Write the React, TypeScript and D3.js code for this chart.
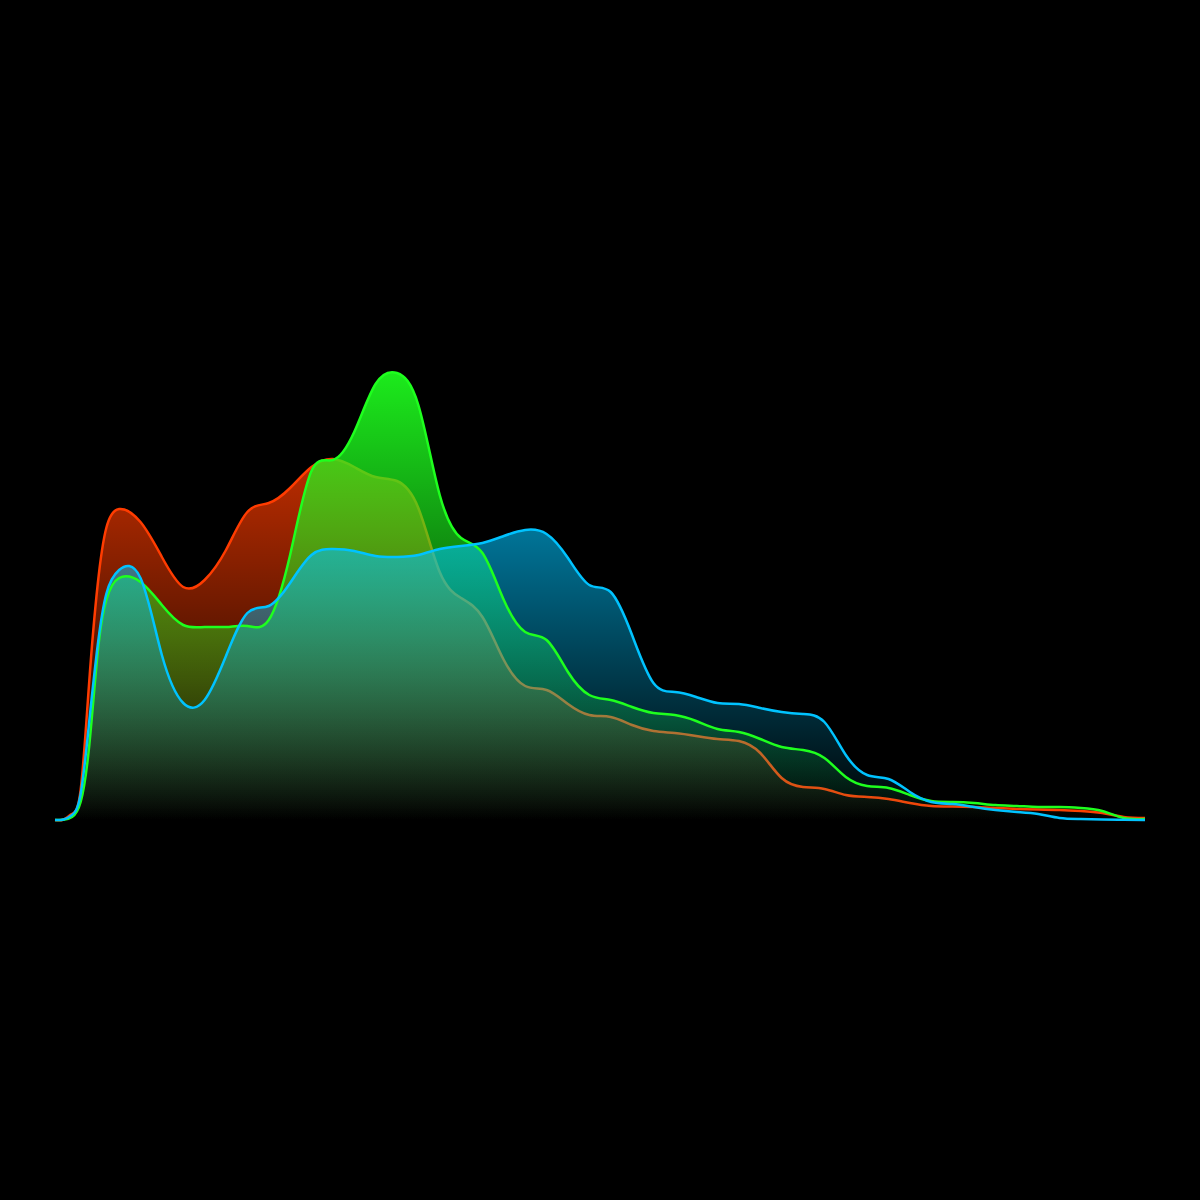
import React from "react";
import * as d3 from "d3";

const bins = [0,2,4,6,8,10,12,15,20,25,30,35,40,45,50,55,60,65,70,75,80,85,90,95,100,105,110,115,120,125,130,135,140,145,150,155,160,165,170,175,180,185,190,195,200,205,210,215,220,225,230,235,240,245,250,255];

const red = [0,0.5,6,30,138,236,292,311,298,263,233,240,270,308,317,332,353,361,353,343,339,312,248,222,203,160,134,130,116,105,103,95,89,87,84,81,79,67,42,33,31,25,23,21,17,14,13.5,13,12,11,10.5,10,9,7,3,2];
const green = [0,0.3,3,18,74,168,220,242,238,215,195,193,193,194,200,265,349,360,388,436,447,415,325,282,267,220,188,180,148,125,120,113,107,105,99,91,88,81,73,70,62,43,34,32,25,19,18,17,15,14,13,13,12,9,2,1];
const blue = [0,0.5,5,26,98,175,226,250,242,165,117,120,164,207,214,237,265,271,269,264,263,265,271,274,277,284,290,286,262,235,228,185,137,128,123,117,116,112,108,106,98,65,45,41,28,18,16,13,10,8,6,2,1,0.5,0.3,0];

const channels = [
  { key: "red", values: red, color: "#ff3c00" },
  { key: "green", values: green, color: "#1eff1e" },
  { key: "blue", values: blue, color: "#00c3ff" },
];

const W = 1200, H = 1200;
const x = d3.scaleLinear().domain([0, 255]).range([55, 1145]);
const y = d3.scaleLinear().domain([0, 447]).range([820, 373]);
const curve = d3.curveNatural;

export default function App() {
  const area = (vals: number[]) =>
    d3.area<number>()
      .x((_, i) => x(bins[i]))
      .y0(y(0))
      .y1((d) => y(d))
      .curve(curve)(vals) as string;
  const line = (vals: number[]) =>
    d3.line<number>()
      .x((_, i) => x(bins[i]))
      .y((d) => y(d))
      .curve(curve)(vals) as string;
  const top = y(d3.max([...red, ...green, ...blue]) as number);
  const [r, g, b] = channels;
  return (
    <svg width={W} height={H} style={{ position: "absolute", left: 0, top: 0, background: "#000" }}>
      <defs>
        {channels.map((c) => (
          <linearGradient key={c.key} id={"grad-" + c.key} gradientUnits="userSpaceOnUse" x1={0} x2={0} y1={top} y2={y(0)}>
            <stop offset="0%" stopColor={c.color} stopOpacity={0.92} />
            <stop offset="100%" stopColor={c.color} stopOpacity={0} />
          </linearGradient>
        ))}
        <clipPath id="plot-clip">
          <rect x={0} y={0} width={W} height={y(0) + 2} />
        </clipPath>
      </defs>
      <rect x={0} y={0} width={W} height={H} fill="#000" />
      <g clipPath="url(#plot-clip)">
        <path d={area(r.values)} fill={"url(#grad-red)"} />
        <path d={line(r.values)} fill="none" stroke={r.color} strokeWidth={2.5} />
        <path d={area(g.values)} fill={"url(#grad-green)"} />
        <path d={area(b.values)} fill={"url(#grad-blue)"} />
        <path d={line(g.values)} fill="none" stroke={g.color} strokeWidth={2.5} />
        <path d={line(b.values)} fill="none" stroke={b.color} strokeWidth={2.5} />
      </g>
    </svg>
  );
}
